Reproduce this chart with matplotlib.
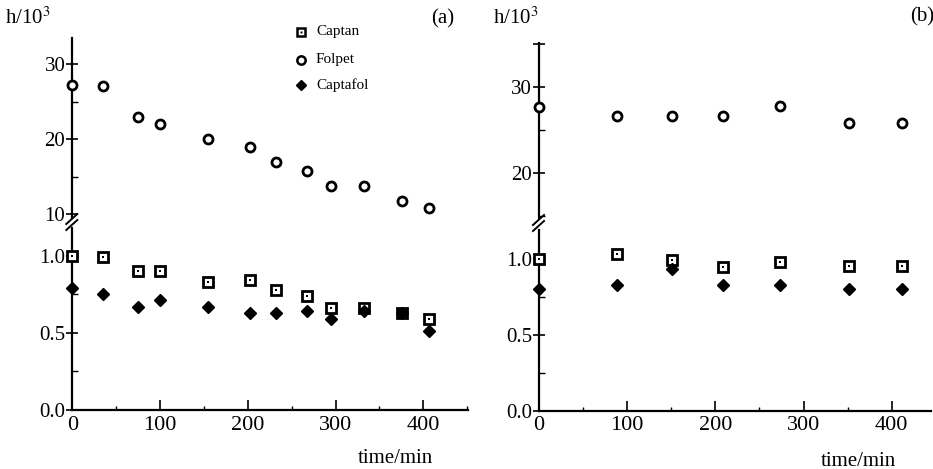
import matplotlib
matplotlib.use("Agg")
import matplotlib.pyplot as plt
from matplotlib.ticker import MultipleLocator

plt.rcParams['font.family'] = ['Liberation Serif', 'DejaVu Serif']
plt.rcParams['mathtext.fontset'] = 'stix'

# panel (a)
time_a = [0, 35, 75, 100, 155, 202, 232, 267, 295, 333, 376, 407]
captan_a = [1.00, 0.99, 0.90, 0.90, 0.83, 0.84, 0.78, 0.74, 0.66, 0.66, 0.63, 0.59]
captafol_a = [0.79, 0.75, 0.67, 0.71, 0.67, 0.63, 0.63, 0.64, 0.59, 0.64, 0.63, 0.51]
folpet_a = [27.2, 27.1, 22.9, 22.0, 20.0, 19.0, 17.0, 15.7, 13.8, 13.8, 11.7, 10.8]

# panel (b)
time_b = [0, 89, 151, 209, 273, 352, 412]
captan_b = [1.00, 1.03, 0.99, 0.945, 0.98, 0.95, 0.953]
captafol_b = [0.80, 0.83, 0.93, 0.83, 0.83, 0.80, 0.80]
folpet_b = [27.7, 26.7, 26.7, 26.7, 27.8, 25.8, 25.8]

W, H = 933, 469


def box(x0, x1, y_top, y_bot):
    return [x0 / W, 1 - y_bot / H, (x1 - x0) / W, (y_bot - y_top) / H]


def style_square(ax, t, v):
    ax.plot(t, v, 's', ms=6.5, mfc='white', mec='black', mew=2.0, clip_on=False, zorder=4)
    ax.plot(t, v, 's', ms=1.6, mfc='black', mec='black', mew=0, clip_on=False, zorder=5)


def style_circle(ax, t, v):
    ax.plot(t, v, 'o', ms=6.5, mfc='white', mec='black', mew=2.0, clip_on=False, zorder=4)


def style_diamond(ax, t, v):
    ax.plot(t, v, 'D', ms=6.5, mfc='black', mec='black', clip_on=False, zorder=4)


def setup_axes(ax_up, ax_lo, xmax):
    for ax in (ax_up, ax_lo):
        ax.spines['top'].set_visible(False)
        ax.spines['right'].set_visible(False)
        ax.spines['left'].set_linewidth(1.6)
        ax.set_xlim(0, xmax)
        ax.tick_params(axis='y', which='major', direction='inout', length=8, width=1.2,
                       labelsize=15, pad=1)
        ax.tick_params(axis='y', which='minor', direction='in', length=4, width=1.0)
        ax.patch.set_visible(False)
    ax_up.spines['bottom'].set_visible(False)
    ax_up.tick_params(axis='x', which='both', bottom=False, labelbottom=False)
    ax_lo.spines['bottom'].set_linewidth(1.6)
    ax_lo.xaxis.set_major_locator(MultipleLocator(100))
    ax_lo.xaxis.set_minor_locator(MultipleLocator(50))
    ax_lo.tick_params(axis='x', which='major', direction='in', length=7, width=1.2,
                      labelsize=16, pad=4)
    ax_lo.tick_params(axis='x', which='minor', direction='in', length=3, width=1.0)
    ax_lo.set_ylim(0, 1.18)
    ax_lo.yaxis.set_major_locator(MultipleLocator(0.5))
    ax_lo.yaxis.set_minor_locator(MultipleLocator(0.25))
    ax_lo.yaxis.set_major_formatter(lambda v, p: f"{v:.1f}")


def break_marks(fig, x, y):
    for dy in (-4, 2):
        fig.add_artist(plt.Line2D([(x - 6) / W, (x + 5) / W],
                                  [1 - (y + dy + 5) / H, 1 - (y + dy - 5) / H],
                                  color='black', lw=1.4))


fig = plt.figure(figsize=(W / 100, H / 100), dpi=100)

# panel (a)
ax_a_up = fig.add_axes(box(72.3, 468, 38, 218))
ax_a_lo = fig.add_axes(box(72.3, 468, 228, 410))
setup_axes(ax_a_up, ax_a_lo, 451)
ax_a_up.set_ylim(9.47, 33.47)
ax_a_up.yaxis.set_major_locator(MultipleLocator(10))
ax_a_up.yaxis.set_minor_locator(MultipleLocator(5))
ax_a_up.yaxis.set_major_formatter(lambda v, p: f"{v:.0f}")

style_square(ax_a_lo, time_a, captan_a)
style_diamond(ax_a_lo, time_a, captafol_a)
style_circle(ax_a_up, time_a, folpet_a)

# panel (b)
ax_b_up = fig.add_axes(box(539, 931, 43, 218))
ax_b_lo = fig.add_axes(box(539, 931, 230, 410.7))
setup_axes(ax_b_up, ax_b_lo, 444.5)
ax_b_lo.set_ylim(0, 1.19)
ax_b_up.set_ylim(14.8, 35.15)
ax_b_up.set_yticks([20, 30, 35])
ax_b_up.set_yticklabels(['20', '30', ''])
ax_b_up.yaxis.set_minor_locator(MultipleLocator(5))

style_square(ax_b_lo, time_b, captan_b)
style_diamond(ax_b_lo, time_b, captafol_b)
style_circle(ax_b_up, time_b, folpet_b)

break_marks(fig, 72.3, 223)
break_marks(fig, 539, 224)

# legend in panel (a)
leg_x, leg_tx = 301, 316
tf = fig.transFigure
for row_y, name, kind in [(32, 'Captan', 's'), (60, 'Folpet', 'o'), (85, 'Captafol', 'D')]:
    fy = 1 - row_y / H
    if kind == 's':
        fig.add_artist(plt.Line2D([leg_x / W], [fy], marker='s', ms=6, mfc='white', mec='black', mew=1.8, transform=tf))
        fig.add_artist(plt.Line2D([leg_x / W], [fy], marker='s', ms=1.4, mfc='black', mec='black', mew=0, transform=tf))
    elif kind == 'o':
        fig.add_artist(plt.Line2D([leg_x / W], [fy], marker='o', ms=6, mfc='white', mec='black', mew=1.8, transform=tf))
    else:
        fig.add_artist(plt.Line2D([leg_x / W], [fy], marker='D', ms=5.5, mfc='black', mec='black', transform=tf))
    fig.text(leg_tx / W, fy, name, fontsize=11, va='center', ha='left')

# labels
fig.text(5 / W, 1 - 18 / H, r'h/10$^{3}$', fontsize=15, va='center', ha='left')
fig.text(493 / W, 1 - 18 / H, r'h/10$^{3}$', fontsize=15, va='center', ha='left')
fig.text(443 / W, 1 - 19 / H, '(a)', fontsize=15, va='center', ha='center')
fig.text(922 / W, 1 - 17 / H, '(b)', fontsize=15, va='center', ha='center')
fig.text(395 / W, 1 - 458 / H, 'time/min', fontsize=15, va='center', ha='center')
fig.text(858 / W, 1 - 461 / H, 'time/min', fontsize=15, va='center', ha='center')

fig.savefig('out.png', dpi=100)
